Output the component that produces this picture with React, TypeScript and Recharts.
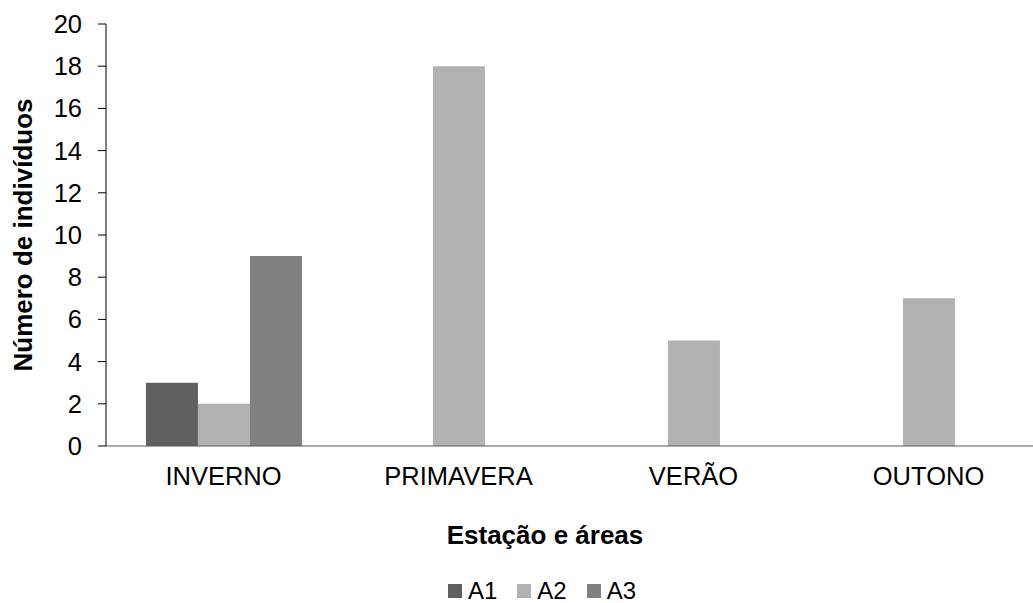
import { BarChart, Bar, XAxis, YAxis, Legend } from 'recharts';

const seasons = ['INVERNO', 'PRIMAVERA', 'VERÃO', 'OUTONO'];
const a1 = [3, 0, 0, 0];
const a2 = [2, 18, 5, 7];
const a3 = [9, 0, 0, 0];
const yTicks = [0, 2, 4, 6, 8, 10, 12, 14, 16, 18, 20];
const seriesNames = ['A1', 'A2', 'A3'];
const seriesColors = ['#606060', '#b2b2b2', '#808080'];

const data = seasons.map((season, i) => ({
  season,
  A1: a1[i],
  A2: a2[i],
  A3: a3[i],
}));

const font = 'Liberation Sans, Arial, sans-serif';

// legend drawn by hand so the square/text spacing matches
function LegendBox() {
  return (
    <div style={{ display: 'flex', alignItems: 'center', height: 24, fontFamily: font, fontSize: 24, color: '#000' }}>
      {seriesNames.map((name, i) => (
        <div key={name} style={{ display: 'flex', alignItems: 'center', marginRight: 20 }}>
          <span style={{ width: 14, height: 14, background: seriesColors[i], marginRight: 6, display: 'inline-block' }} />
          <span style={{ lineHeight: '24px' }}>{name}</span>
        </div>
      ))}
    </div>
  );
}

export default function App() {
  return (
    <div
      style={{
        position: 'absolute',
        left: 0,
        top: 0,
        width: 1033,
        height: 603,
        overflow: 'hidden',
        background: '#fff',
        fontFamily: font,
      }}
    >
      <BarChart
        width={1048}
        height={603}
        data={data}
        margin={{ top: 24, right: 2, left: 0, bottom: 0 }}
        barCategoryGap='17%'
        barGap={0}
      >
        <XAxis
          dataKey='season'
          height={133}
          tickLine={false}
          tickMargin={15}
          stroke='#595959'
          tick={{ fill: '#000', fontSize: 25.5, fontFamily: font }}
          label={{
            value: 'Estação e áreas',
            position: 'insideBottom',
            offset: 35,
            dx: -31,
            fill: '#000',
            fontSize: 26,
            fontWeight: 'bold',
            fontFamily: font,
          }}
        />
        <YAxis
          width={106}
          domain={[0, 20]}
          ticks={yTicks}
          tickSize={8}
          tickMargin={16}
          stroke='#000'
          tick={{ fill: '#000', fontSize: 25.5, fontFamily: font }}
          label={{
            value: 'Número de indivíduos',
            angle: -90,
            position: 'insideLeft',
            offset: 23,
            fill: '#000',
            fontSize: 26,
            fontWeight: 'bold',
            fontFamily: font,
            style: { textAnchor: 'middle' },
          }}
        />
        <Legend
          verticalAlign='bottom'
          height={24}
          content={() => <LegendBox />}
          wrapperStyle={{ left: 448, width: 260 }}
        />
        <Bar dataKey='A1' fill={seriesColors[0]} isAnimationActive={false} />
        <Bar dataKey='A2' fill={seriesColors[1]} isAnimationActive={false} />
        <Bar dataKey='A3' fill={seriesColors[2]} isAnimationActive={false} />
      </BarChart>
    </div>
  );
}
